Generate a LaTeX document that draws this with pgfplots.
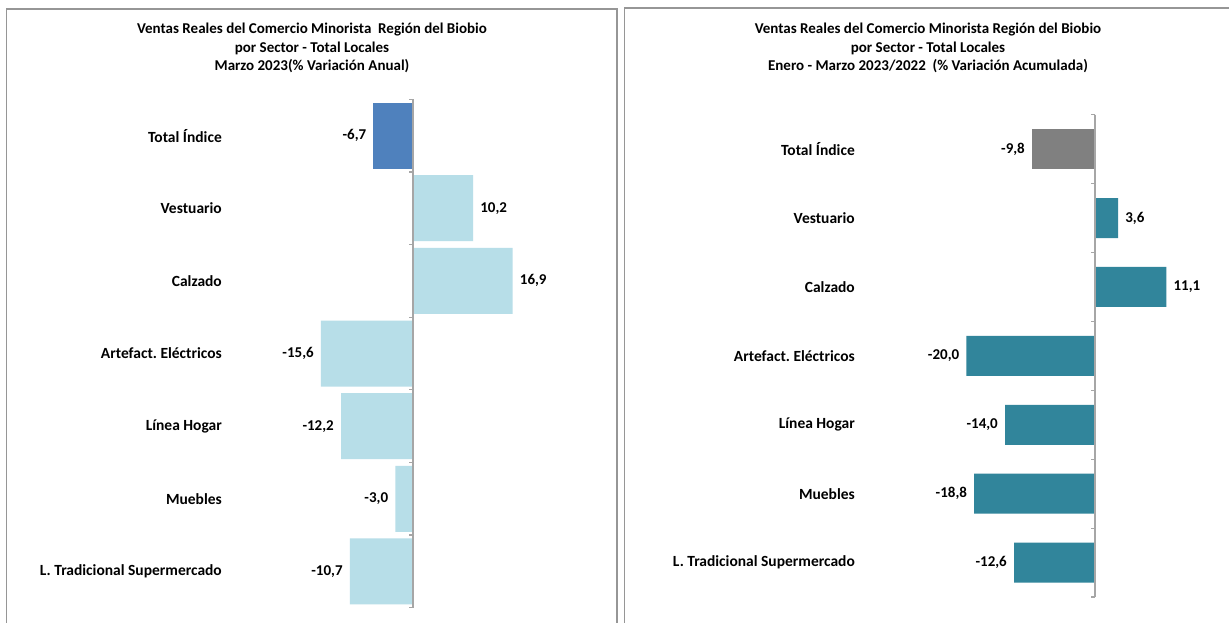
\documentclass[border=0pt]{standalone}
\usepackage{pgfplots}
\pgfplotsset{compat=1.18}
\usepackage{fontspec}
\setmainfont{Carlito}
\frenchspacing
\definecolor{darkblue}{RGB}{79,129,189}
\definecolor{lightblue}{RGB}{183,222,232}
\definecolor{tealb}{RGB}{49,133,155}
\definecolor{grayb}{RGB}{128,128,128}
\definecolor{borderg}{RGB}{150,150,150}
\definecolor{axisg}{RGB}{166,166,166}
\begin{document}
\begin{tikzpicture}
\useasboundingbox (0pt,0pt) rectangle (1229pt,623pt);
\fill[white] (0pt,0pt) rectangle (1229pt,623pt);
% panel borders
\draw[borderg,line width=1.3pt] (6.5pt,-2pt) -- (6.5pt,614pt) -- (617pt,614pt) -- (617pt,-2pt);
\draw[borderg,line width=1.3pt] (624.3pt,-2pt) -- (624.3pt,615pt) -- (1235pt,615pt);
% titles
\node[align=center,font=\fontsize{15}{18.5}\selectfont\bfseries] at (312pt,575pt)
 {Ventas Reales del Comercio Minorista\ \ Región del Biobio\\por Sector - Total Locales\\Marzo 2023(\% Variación Anual)};
\node[align=center,font=\fontsize{15}{18.5}\selectfont\bfseries] at (928pt,575pt)
 {Ventas Reales del Comercio Minorista Región del Biobio\\por Sector - Total Locales\\Enero - Marzo 2023/2022\ \ (\% Variación Acumulada)};

\pgfplotsset{
  mybar/.style={
    scale only axis,
    xbar, bar shift=0pt,
    y dir=reverse,
    ymin=-0.5, ymax=6.5,
    ytick={0,1,2,3,4,5,6},
    yticklabels={Total Índice,Vestuario,Calzado,Artefact. Eléctricos,Línea Hogar,Muebles,L. Tradicional Supermercado},
    xtick=\empty,
    axis line style={draw=none},
    major tick length=0pt,
    tick label style={font=\fontsize{15.5}{17}\selectfont\bfseries},
    yticklabel style={anchor=east,inner sep=0pt},
    clip=false,
    nodes near coords,
    point meta=explicit symbolic,
    visualization depends on={rawx \as \myrawx},
    nodes near coords style={font=\fontsize{15}{17}\selectfont\bfseries,inner sep=7pt,
      anchor={\ifdim\myrawx pt<0pt east\else west\fi}},
  }
}

% left axis
\begin{axis}[mybar,
  at={(236pt,15.3pt)}, anchor=south west,
  width=383.5pt, height=508.4pt,
  xmin=-30, xmax=35,
  yticklabel style={xshift=-14pt},
  bar width=66pt]
\addplot[fill=darkblue,draw=none] table[meta=l] {
x y l
-6.7 0 -6,7
};
\addplot[fill=lightblue,draw=none] table[meta=l] {
x y l
10.2 1 10,2
16.9 2 16,9
-15.6 3 -15,6
-12.2 4 -12,2
-3.0 5 -3,0
-10.7 6 -10,7
};
\draw[axisg,line width=1.2pt] (axis cs:0,-0.5) -- (axis cs:0,6.5);
\pgfplotsinvokeforeach{-0.5,0.5,1.5,2.5,3.5,4.5,5.5,6.5}{
  \draw[axisg,line width=1.2pt] (axis cs:0,#1) -- ++(-4.5pt,0pt);}
\end{axis}

% right axis
\begin{axis}[mybar,
  at={(870pt,26pt)}, anchor=south west,
  width=347.2pt, height=482.3pt,
  xmin=-35, xmax=19,
  yticklabel style={xshift=-15pt},
  bar width=40pt]
\addplot[fill=grayb,draw=none] table[meta=l] {
x y l
-9.8 0 -9,8
};
\addplot[fill=tealb,draw=none] table[meta=l] {
x y l
3.6 1 3,6
11.1 2 11,1
-20.0 3 -20,0
-14.0 4 -14,0
-18.8 5 -18,8
-12.6 6 -12,6
};
\draw[axisg,line width=1.2pt] (axis cs:0,-0.5) -- (axis cs:0,6.5);
\pgfplotsinvokeforeach{-0.5,0.5,1.5,2.5,3.5,4.5,5.5,6.5}{
  \draw[axisg,line width=1.2pt] (axis cs:0,#1) -- ++(-4.5pt,0pt);}
\end{axis}
\end{tikzpicture}
\end{document}
